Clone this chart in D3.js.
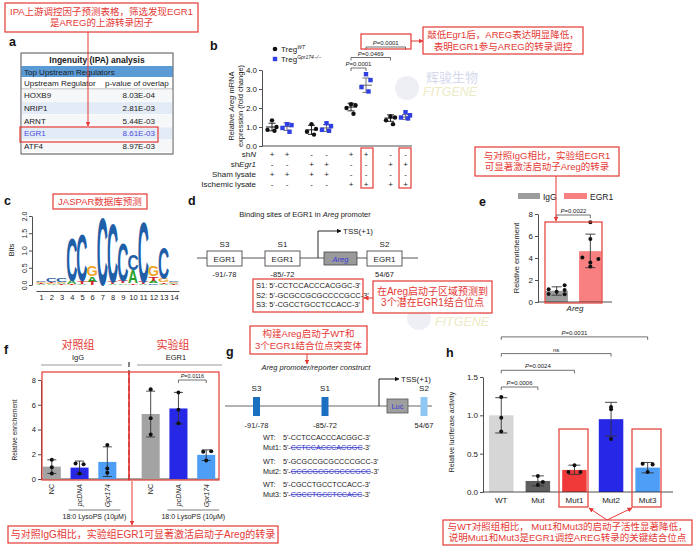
<!DOCTYPE html>
<html><head><meta charset="utf-8">
<script src="https://cdn.jsdelivr.net/npm/d3@7/dist/d3.min.js"></script>
<style>
html,body{margin:0;padding:0;background:#fff;}
svg{display:block;}
text{font-family:"Liberation Sans",Arial,"Noto Sans CJK SC",sans-serif;}
</style></head><body>
<script>
// ================= DATA =================
// panel a
const ipaTitle = "Ingenuity (IPA) analysis";
const ipaRegulators = ["HOXB9","NRIP1","ARNT","EGR1","ATF4"];
const ipaPValues = ["8.03E-04","2.81E-03","5.44E-03","8.61E-03","8.97E-03"];
// panel b
const bGroups = ["WT","KO","WT","KO","WT","KO","WT","KO"];
const bMeans = [1.0,1.02,0.85,0.95,2.05,3.2,1.47,1.52];
const bSD = [0.2,0.2,0.24,0.18,0.2,0.38,0.17,0.13];
const bPoints = [[1.35,1.0,0.85,0.8],[1.15,1.1,0.95,0.75],[1.15,0.9,0.75,0.6],[1.2,1.05,0.85,0.8],
                 [2.2,2.15,2.0,1.7],[3.78,3.47,3.1,2.87],[1.55,1.5,1.35,1.15],[1.78,1.62,1.5,1.45]];
const bRowLabels = [["sh","N"],["sh","Egr1"],["Sham lysate",""],["Ischemic lysate",""]];
const bSigns = [["+","+","-","-","+","+","-","-"],["-","-","+","+","-","-","+","+"],
                ["+","+","+","+","-","-","-","-"],["-","-","-","-","+","+","+","+"]];
const bComparisons = [[4,5,"P=0.0001"],[4,6,"P=0.0469"],[5,7,"P=0.0001"]];
const bYTicks = [0,1,2,3,4];
// panel c (sequence logo, bits per letter)
const logoPositions = [1,2,3,4,5,6,7,8,9,10,11,12,13,14];
const logoA = [0.03,0.03,0.03,0.1,0.03,0.15,0,0.02,0.05,0.38,0.03,0.08,0.03,0.03];
const logoC = [0.05,0.12,0.12,1.25,1.4,0,2.0,1.72,1.1,0.45,1.78,0.05,0.92,0.05];
const logoG = [0.04,0.03,0.03,0,0,0.3,0,0,0,0,0,0.32,0.1,0.03];
const logoT = [0.03,0.03,0.02,0.03,0.08,0.1,0,0.06,0.08,0.05,0.06,0.12,0.05,0.02];
const logoYTicks = [0,0.5,1,1.5,2];
// panel d / g
const siteNames = ["S3","S1","S2"];
const sitePositions = ["-91/-78","-85/-72","54/67"];
const siteSequences = ["S1: 5'-CCTCCACCCACGGC-3'","S2: 5'-GCGCCGCGCCCCGCC-3'","S3: 5'-CGCCTGCCTCCACC-3'"];
const wtSequences = ["CCTCCACCCACGGC","GCGCCGCGCCCCGCC","CGCCTGCCTCCACC"];
const mutSequences = ["CCTCCACCCACGGC","GCGCGCGCGCCCGCC","CGCCTGCCTCCACC"];
// panel e
const eCategories = ["IgG","EGR1"];
const eMeans = [1.02,4.62];
const eErrLow = [0.62,3.12];
const eErrHigh = [1.38,6.17];
const ePoints = [[1.15,0.73,0.94,1.52,1.1,0.7],[7.24,5.72,4.05,3.9,3.59,3.22]];
const eYTicks = [0,2,4,6,8];
// panel f
const fGroups = ["IgG","EGR1"];
const fConditions = ["NC","pcDNA","Gpr174"];
const fMeans = [[1.0,0.92,1.38],[5.25,5.7,1.95]];
const fErrLow = [[0.45,0.4,0.2],[3.4,4.45,1.5]];
const fErrHigh = [[1.55,1.45,2.6],[7.1,7.0,2.35]];
const fPoints = [[[1.55,0.95,0.45],[1.25,1.2,0.45],[2.75,0.85,0.5]],
                 [[7.25,4.9,3.6],[7.0,5.6,4.5],[2.2,2.25,1.5]]];
const fYTicks = [0,2,4,6,8];
// panel h
const hCategories = ["WT","Mut","Mut1","Mut2","Mut3"];
const hMeans = [1.0,0.144,0.288,0.95,0.318];
const hErrLow = [0.77,0.08,0.23,0.73,0.25];
const hErrHigh = [1.23,0.21,0.35,1.17,0.385];
const hPoints = [[1.24,0.97,0.79],[0.21,0.13,0.09],[0.35,0.26,0.26],[1.11,1.08,0.69],[0.37,0.36,0.26]];
const hComparisons = [[0,1,"P=0.0006"],[0,2,"P=0.0024"],[0,3,"ns"],[0,4,"P=0.0031"]];
const hYTicks = [0,0.5,1.0,1.5];

// ================= LAYOUT / STYLE =================
const RED = "#e53935";
const svg = d3.select("body").append("svg").attr("width",698).attr("height",553);
svg.append("rect").attr("width",698).attr("height",553).attr("fill","#fff");
const defs = svg.append("defs");
function mk(id,color){
  defs.append("marker").attr("id",id).attr("viewBox","0 0 10 10").attr("refX",9).attr("refY",5)
    .attr("markerWidth",5).attr("markerHeight",5).attr("orient","auto")
    .append("path").attr("d","M0,0L10,5L0,10z").attr("fill",color);
}
mk("arR",RED); mk("arK","#111");

function txt(x,y,s,o={}){
  const t = svg.append("text").attr("x",x).attr("y",y).attr("font-size",o.fs||8).attr("fill",o.fill||"#1a1a1a");
  if(s!==null) t.text(s);
  if(o.anchor) t.attr("text-anchor",o.anchor);
  if(o.bold) t.attr("font-weight","bold");
  if(o.italic) t.attr("font-style","italic");
  if(o.rot!==undefined) t.attr("transform",`rotate(${o.rot},${x},${y})`);
  return t;
}
function ln(x1,y1,x2,y2,o={}){
  const l = svg.append("line").attr("x1",x1).attr("y1",y1).attr("x2",x2).attr("y2",y2)
    .attr("stroke",o.stroke||"#222").attr("stroke-width",o.sw||0.8);
  if(o.dash) l.attr("stroke-dasharray",o.dash);
  if(o.marker) l.attr("marker-end",`url(#${o.marker})`);
  return l;
}
function box(x,y,w,h,o={}){
  return svg.append("rect").attr("x",x).attr("y",y).attr("width",w).attr("height",h)
    .attr("fill",o.fill||"none").attr("stroke",o.stroke||RED).attr("stroke-width",o.sw||1.2);
}
function callout(x,y,w,h,lines,fs,lh){
  box(x,y,w,h,{fill:"#fff"});
  lines.forEach((s,i)=>{
    txt(x+w/2, y+h/2+(i-(lines.length-1)/2)*lh+fs*0.36, s, {fs:fs,fill:RED,anchor:"middle"});
  });
}
function pLabel(x,y,label,fs){
  const t = txt(x,y,null,{fs:fs,anchor:"middle"});
  if(label.startsWith("P=")){
    t.append("tspan").attr("font-style","italic").text("P");
    t.append("tspan").text(label.slice(1));
  } else t.text(label);
}
function bracket(x1,x2,y,label,fs){
  svg.append("path").attr("d",`M${x1},${y+3}V${y}H${x2}V${y+3}`).attr("fill","none").attr("stroke","#333").attr("stroke-width",0.7);
  pLabel((x1+x2)/2,y-2,label,fs||6);
}
function styleAxis(g,fs){
  g.attr("font-family",null).attr("font-size",fs);
  g.selectAll("path,line").attr("stroke","#222").attr("stroke-width",0.8);
  g.selectAll("text").attr("fill","#222");
}
function watermark(x,y){
  svg.append("circle").attr("cx",x-19).attr("cy",y+6).attr("r",12).attr("fill","#e9ebf3").attr("opacity",0.8);
  txt(x,y,"辉骏生物",{fs:13,fill:"#d4d9ec"});
  txt(x-3,y+14,"FITGENE",{fs:12.5,fill:"#ecebc4",italic:true});
}

// watermarks (drawn first, underneath)
watermark(426,82);
watermark(438,312);

// panel letters
[["a",9,46],["b",210,50],["c",4,205],["d",188,205],["e",479,206],["f",4,354],["g",226,356],["h",446,357]]
  .forEach(d=>txt(d[1],d[2],d[0],{fs:12.5,bold:true,fill:"#111"}));

// ================= PANEL A =================
callout(5,3,193,29,["IPA上游调控因子预测表格，筛选发现EGR1","是AREG的上游转录因子"],9.5,11);
(function(){
  const x0=21, w=152, rowH=12.6, rowY0=89;
  box(x0,53,w,101,{stroke:"#777",sw:0.8,fill:"#fff"});
  txt(x0+w/2,63,ipaTitle,{fs:8.5,bold:true,anchor:"middle"});
  svg.append("rect").attr("x",x0).attr("y",66).attr("width",w).attr("height",11).attr("fill","#5b9bd5");
  txt(x0+3,74.5,"Top Upstream Regulators",{fs:8});
  txt(x0+3,86,"Upstream Regulator",{fs:8});
  txt(x0+84,86,"p-value of overlap",{fs:8});
  ln(x0,89,x0+w,89,{stroke:"#888",sw:0.7});
  ipaRegulators.forEach((r,i)=>{
    const y = rowY0 + i*rowH;
    svg.append("rect").attr("x",x0+0.5).attr("y",y+0.5).attr("width",w-1).attr("height",rowH-0.5)
      .attr("fill", i%2 ? "#e3ebf6" : "#f6f7f9");
    const col = r==="EGR1" ? "#4b4bdc" : "#1a1a1a";
    txt(x0+3,y+9.3,r,{fs:8,fill:col});
    txt(x0+134,y+9.3,ipaPValues[i],{fs:8,fill:col,anchor:"end"});
  });
  box(x0,53,w,101,{stroke:"#777",sw:0.8});
  box(20,127,138,15,{sw:1.2});
  ln(88,32,88,126,{stroke:RED,sw:1,marker:"arR"});
})();

// ================= PANEL B =================
(function(){
  const yB = d3.scaleLinear().domain([0,4]).range([146,70]);
  const pairs = d3.scaleBand().domain([0,1,2,3]).range([259.75,417.75]);
  const inner = d3.scalePoint().domain(["WT","KO"]).range([-7.5,7.5]);
  const gx = i => pairs(Math.floor(i/2)) + pairs.bandwidth()/2 + inner(bGroups[i]);
  const jit = [0,4.5,-4.5,2.5];
  // legend
  svg.append("circle").attr("cx",275).attr("cy",49).attr("r",2.3).attr("fill","#111");
  const l1 = txt(281,52,"Treg",{fs:8});
  l1.append("tspan").attr("dy",-3).attr("font-size",5).attr("font-style","italic").text("WT");
  svg.append("rect").attr("x",272.8).attr("y",56.8).attr("width",4.4).attr("height",4.4).attr("fill","#2f3fe0");
  const l2 = txt(281,62,"Treg",{fs:8});
  l2.append("tspan").attr("dy",-3).attr("font-size",5).attr("font-style","italic").text("Gpr174−/−");
  // axes
  const ga = svg.append("g").attr("transform","translate(262,0)")
    .call(d3.axisLeft(yB).tickValues(bYTicks).tickSize(3).tickSizeOuter(0).tickPadding(2));
  styleAxis(ga,8);
  ln(262,146,412,146);
  const yt1 = txt(234,106,null,{fs:7.5,anchor:"middle",rot:-90});
  yt1.append("tspan").text("Relative ");
  yt1.append("tspan").attr("font-style","italic").text("Areg");
  yt1.append("tspan").text(" mRNA");
  txt(243,106,"expression (fold change)",{fs:7.5,anchor:"middle",rot:-90});
  // data
  bGroups.forEach((g,i)=>{
    const cx = gx(i), col = g==="WT" ? "#111" : "#666";
    ln(cx,yB(bMeans[i]-bSD[i]),cx,yB(bMeans[i]+bSD[i]),{stroke:col,sw:0.9});
    ln(cx-3.5,yB(bMeans[i]+bSD[i]),cx+3.5,yB(bMeans[i]+bSD[i]),{stroke:col,sw:0.9});
    ln(cx-3.5,yB(bMeans[i]-bSD[i]),cx+3.5,yB(bMeans[i]-bSD[i]),{stroke:col,sw:0.9});
    ln(cx-6,yB(bMeans[i]),cx+6,yB(bMeans[i]),{stroke:col,sw:1});
    bPoints[i].forEach((v,k)=>{
      if(g==="WT") svg.append("circle").attr("cx",cx+jit[k]).attr("cy",yB(v)).attr("r",2.2).attr("fill","#111");
      else svg.append("rect").attr("x",cx+jit[k]-2.2).attr("y",yB(v)-2.2).attr("width",4.4).attr("height",4.4).attr("fill","#2f3fe0");
    });
  });
  bComparisons.forEach((c,k)=> bracket(gx(c[0]),gx(c[1]),68-k*10.5,c[2],6));
  // treatment table
  bRowLabels.forEach((r,ri)=>{
    const y = 157 + ri*10;
    const t = txt(256,y,null,{fs:8,anchor:"end"});
    t.append("tspan").text(r[0]);
    if(r[1]) t.append("tspan").attr("font-style","italic").text(r[1]);
    bSigns[ri].forEach((s,i)=> txt(gx(i),y,s==="-"?"-":"+",{fs:8,anchor:"middle"}));
  });
  box(361,34,50,15);
  box(361,148,12,40);
  box(399,148,12,40);
  ln(411,41,423,41,{stroke:RED,sw:1,marker:"arR"});
})();
callout(423,27,160,27,["敲低Egr1后，AREG表达明显降低，","表明EGR1参与AREG的转录调控"],9.5,12);

// ================= PANEL C =================
box(53,194,94,15,{fill:"#fff"});
txt(100,205,"JASPAR数据库预测",{fs:9.5,fill:RED,anchor:"middle"});
(function(){
  const yC = d3.scaleLinear().domain([0,2]).range([285,216]);
  const xC = d3.scaleLinear().domain([0.5,14.5]).range([36,179]);
  const ga = svg.append("g").attr("transform","translate(32,0)")
    .call(d3.axisLeft(yC).tickValues(logoYTicks).tickSize(3).tickSizeOuter(0));
  styleAxis(ga,7);
  ga.selectAll(".tick text").attr("transform","rotate(-90)").attr("x",0).attr("y",-5).attr("dy",0).attr("text-anchor","middle");
  txt(14,250,"Bits",{fs:7.5,anchor:"middle",rot:-90});
  const gb = svg.append("g").attr("transform","translate(0,291)")
    .call(d3.axisBottom(xC).tickValues(logoPositions).tickSize(0).tickSizeOuter(0).tickPadding(4));
  styleAxis(gb,7.5);
  const colors = {A:"#2ca02c",C:"#1f5fa8",G:"#f0a52a",T:"#d62728"};
  const ink = {A:0.70,C:0.62,G:0.66,T:0.58};
  const heights = {A:logoA,C:logoC,G:logoG,T:logoT};
  logoPositions.forEach((p,i)=>{
    const letters = ["A","C","G","T"].map(L=>({L,h:heights[L][i]})).filter(d=>d.h>0).sort((a,b)=>a.h-b.h);
    let base = 0;
    const cx = xC(p);
    letters.forEach(d=>{
      const yb = yC(base), yt = yC(base+d.h);
      const hpx = yb-yt;
      const sx = 9.6/(ink[d.L]*100), sy = hpx/71.6;
      svg.append("text").attr("x",0).attr("y",0).attr("font-size",100).attr("font-weight","bold")
        .attr("text-anchor","middle").attr("fill",colors[d.L])
        .attr("transform",`translate(${cx},${yb}) scale(${sx},${sy})`).text(d.L);
      base += d.h;
    });
  });
})();

// ================= PANEL D =================
(function(){
  const t = txt(305,217,null,{fs:7.5,anchor:"middle"});
  t.append("tspan").text("Binding sites of EGR1 in ");
  t.append("tspan").attr("font-style","italic").text("Areg");
  t.append("tspan").text(" promoter");
  ln(197,258,418,258,{stroke:"#444",sw:0.9});
  const boxes = [[207,siteNames[0],sitePositions[0]],[265,siteNames[1],sitePositions[1]],[367,siteNames[2],sitePositions[2]]];
  boxes.forEach(b=>{
    box(b[0],251,35,15,{stroke:"#333",sw:0.8,fill:"#fff"});
    txt(b[0]+17.5,261.5,"EGR1",{fs:8,anchor:"middle"});
    txt(b[0]+17.5,247,b[1],{fs:8,anchor:"middle"});
    txt(b[0]+17.5,276.5,b[2],{fs:7.5,anchor:"middle"});
  });
  box(324,252,33,13,{stroke:"#444",sw:0.8,fill:"#9a9a9a"});
  txt(340.5,261.5,"Areg",{fs:7.5,anchor:"middle",italic:true,fill:"#3a3ad8"});
  svg.append("path").attr("d","M318,258V231H341").attr("fill","none").attr("stroke","#111").attr("stroke-width",0.9).attr("marker-end","url(#arK)");
  txt(343,234,"TSS(+1)",{fs:8});
  box(253,279,110,33,{fill:"#fff"});
  siteSequences.forEach((s,i)=> txt(256,288+i*9.6,s,{fs:7.5}));
  ln(373,298,364,298,{stroke:RED,sw:1,marker:"arR"});
})();
callout(373,281,119,32,["在Areg启动子区域预测到","3个潜在EGR1结合位点"],10,11.5);

// ================= PANEL E =================
callout(475,147,144,29,["与对照IgG相比，实验组EGR1","可显著激活启动子Areg的转录"],9.5,11);
(function(){
  const yE = d3.scaleLinear().domain([0,8]).range([302,214]);
  const xE = d3.scaleBand().domain(eCategories).range([542,605]).paddingInner(0.33).paddingOuter(0.1);
  const cols = {IgG:"#9c9c9c",EGR1:"#f98080"};
  // legend
  svg.append("rect").attr("x",518).attr("y",193).attr("width",22).attr("height",6).attr("fill",cols.IgG);
  txt(543,199.5,"IgG",{fs:8.5});
  svg.append("rect").attr("x",564).attr("y",193).attr("width",23).attr("height",6).attr("fill",cols.EGR1);
  txt(590,199.5,"EGR1",{fs:8.5});
  const ga = svg.append("g").attr("transform","translate(538,0)")
    .call(d3.axisLeft(yE).tickValues(eYTicks).tickSize(3).tickSizeOuter(0).tickPadding(2));
  styleAxis(ga,8);
  txt(519,258,"Relative enrichement",{fs:7.5,anchor:"middle",rot:-90});
  const jit = [[-8,-8,0,8,8,8],[0,0,-8,8,0,0]];
  eCategories.forEach((c,i)=>{
    const x = xE(c), w = xE.bandwidth(), cx = x+w/2;
    svg.append("rect").attr("x",x).attr("y",yE(eMeans[i])).attr("width",w).attr("height",yE(0)-yE(eMeans[i])).attr("fill",cols[c]);
    ln(cx,yE(eErrLow[i]),cx,yE(eErrHigh[i]),{stroke:"#333",sw:0.9});
    ln(cx-5,yE(eErrLow[i]),cx+5,yE(eErrLow[i]),{stroke:"#333",sw:0.9});
    ln(cx-5,yE(eErrHigh[i]),cx+5,yE(eErrHigh[i]),{stroke:"#333",sw:0.9});
    ePoints[i].forEach((v,k)=> svg.append("circle").attr("cx",cx+jit[i][k]).attr("cy",yE(v)).attr("r",2).attr("fill","#111"));
  });
  ln(538,302,612,302);
  txt(575,311,"Areg",{fs:8,anchor:"middle",italic:true});
  bracket(xE("IgG")+xE.bandwidth()/2,xE("EGR1")+xE.bandwidth()/2,215,"P=0.0022",6);
  box(545,222,57,81);
  ln(556,176,556,221,{stroke:RED,sw:1,marker:"arR"});
})();

// ================= PANEL F =================
(function(){
  const yF = d3.scaleLinear().domain([0,8]).range([479,380]);
  const outer = d3.scaleBand().domain(fGroups).range([40,218]).paddingInner(0.2).paddingOuter(0);
  const inner = d3.scaleBand().domain(fConditions).range([0,outer.bandwidth()]).paddingInner(0.35).paddingOuter(0.1);
  const cols = {NC:"#a3a3a3",pcDNA:"#2727e8",Gpr174:"#4f9ef5"};
  const jit = [[[0,0,0],[-4,4,0],[0,0,0]],[[0,0,0],[0,0,0],[-3,5,0]]];
  txt(78,349,"对照组",{fs:11,fill:RED,anchor:"middle"});
  txt(173,349,"实验组",{fs:11,fill:RED,anchor:"middle"});
  txt(78,360,"IgG",{fs:7.5,anchor:"middle"});
  ln(41,365,122,365,{stroke:"#999",sw:1.2});
  txt(176,360,"EGR1",{fs:7.5,anchor:"middle"});
  ln(137,365,222,365,{stroke:"#999",sw:1.2});
  ln(129,362,129,481,{stroke:"#333",sw:1.2,dash:"5,3"});
  const ga = svg.append("g").attr("transform","translate(41,0)")
    .call(d3.axisLeft(yF).tickValues(fYTicks).tickSize(3).tickSizeOuter(0).tickPadding(2));
  styleAxis(ga,7.5);
  txt(17,430,"Relative enrichement",{fs:6.5,anchor:"middle",rot:-90});
  ln(41,479,219,479);
  fGroups.forEach((g,gi)=>{
    fConditions.forEach((c,ci)=>{
      const x = outer(g)+inner(c), w = inner.bandwidth(), cx = x+w/2;
      const m = fMeans[gi][ci];
      svg.append("rect").attr("x",x).attr("y",yF(m)).attr("width",w).attr("height",yF(0)-yF(m)).attr("fill",cols[c]);
      const lo = fErrLow[gi][ci], hi = fErrHigh[gi][ci];
      ln(cx,yF(lo),cx,yF(hi),{stroke:"#333",sw:0.9});
      ln(cx-4.5,yF(lo),cx+4.5,yF(lo),{stroke:"#333",sw:0.9});
      ln(cx-4.5,yF(hi),cx+4.5,yF(hi),{stroke:"#333",sw:0.9});
      fPoints[gi][ci].forEach((v,k)=> svg.append("circle").attr("cx",cx+jit[gi][ci][k]).attr("cy",yF(v)).attr("r",2).attr("fill","#111"));
      txt(cx+2.5,484,c,{fs:7,anchor:"end",rot:-90,italic:c!=="NC"});
    });
    const x1 = outer(g)+inner("pcDNA"), x2 = outer(g)+inner("Gpr174")+inner.bandwidth();
    ln(x1-2,510,x2+4,510,{stroke:"#444",sw:0.7});
    txt((x1+x2)/2+1,519,"18:0 LysoPS (10μM)",{fs:7,anchor:"middle"});
  });
  const bx1 = outer("EGR1")+inner("pcDNA")+inner.bandwidth()/2, bx2 = outer("EGR1")+inner("Gpr174")+inner.bandwidth()/2;
  bracket(bx1,bx2,380,"P=0.0116",5.5);
  box(42,372,87,108);
  box(129,372,90,108);
  ln(132,481,132,525,{stroke:RED,sw:1,marker:"arR"});
})();
callout(8,526,270,17,["与对照IgG相比，实验组EGR1可显著激活启动子Areg的转录"],10,11);

// ================= PANEL G =================
callout(250,326,117,28,["构建Areg启动子WT和","3个EGR1结合位点突变体"],9.5,12);
ln(307,354,307,364,{stroke:RED,sw:1,marker:"arR"});
(function(){
  txt(316,370,"Areg promoter/reporter construct",{fs:7.5,anchor:"middle",italic:true});
  ln(225,406,432,406,{stroke:"#555",sw:0.9});
  const sites = [[256.5,"#1a6fc0"],[325,"#1a6fc0"],[424,"#8fc7f2"]];
  sites.forEach((s,i)=>{
    svg.append("rect").attr("x",s[0]-3.5).attr("y",397).attr("width",7).attr("height",19).attr("fill",s[1]);
    txt(s[0],391,siteNames[i],{fs:8,anchor:"middle"});
    txt(s[0],428,sitePositions[i],{fs:7.5,anchor:"middle"});
  });
  box(387,399,21,14,{stroke:"#555",sw:0.8,fill:"#9e9e9e"});
  txt(397.5,409,"Luc",{fs:7.5,anchor:"middle",fill:"#3a3ad8"});
  svg.append("path").attr("d","M379,406V379H399").attr("fill","none").attr("stroke","#111").attr("stroke-width",0.9).attr("marker-end","url(#arK)");
  txt(401,382,"TSS(+1)",{fs:8});
  const ys = [[440,450],[464,474],[487,497]];
  wtSequences.forEach((s,i)=>{
    txt(263,ys[i][0],"WT:",{fs:7.2});
    txt(283,ys[i][0],"5'-"+s+"-3'",{fs:7.2});
    const lab = txt(263,ys[i][1],`Mut${i+1}: 5'-`,{fs:7.2});
    const w1 = lab.node().getComputedTextLength();
    const mt = txt(263+w1,ys[i][1],mutSequences[i],{fs:7.2,fill:"#3535c8"});
    const w2 = mt.node().getComputedTextLength();
    ln(263+w1,ys[i][1]-2.4,263+w1+w2,ys[i][1]-2.4,{stroke:"#3535c8",sw:0.8});
    txt(263+w1+w2,ys[i][1],"-3'",{fs:7.2});
  });
})();

// ================= PANEL H =================
(function(){
  const yH = d3.scaleLinear().domain([0,1.5]).range([492,377]);
  const xH = d3.scaleBand().domain(hCategories).range([483.5,665.4]).paddingInner(0.33).paddingOuter(0.15);
  const cols = {WT:"#d6d6d6",Mut:"#5f5f5f",Mut1:"#f03a3a",Mut2:"#2727e8",Mut3:"#4f9ef5"};
  const jit = [[0,0,0],[0,5,0],[0,-6,6],[0,0,0],[-5,5,0]];
  const ga = svg.append("g").attr("transform","translate(483,0)")
    .call(d3.axisLeft(yH).tickValues(hYTicks).tickFormat(d3.format(".1f")).tickSize(3).tickSizeOuter(0).tickPadding(2));
  styleAxis(ga,8);
  txt(454,432,"Relative luciferase activity",{fs:7,anchor:"middle",rot:-90});
  hCategories.forEach((c,i)=>{
    const x = xH(c), w = xH.bandwidth(), cx = x+w/2;
    svg.append("rect").attr("x",x).attr("y",yH(hMeans[i])).attr("width",w).attr("height",yH(0)-yH(hMeans[i])).attr("fill",cols[c]);
    ln(cx,yH(hErrLow[i]),cx,yH(hErrHigh[i]),{stroke:"#333",sw:0.9});
    ln(cx-6,yH(hErrLow[i]),cx+6,yH(hErrLow[i]),{stroke:"#333",sw:0.9});
    ln(cx-6,yH(hErrHigh[i]),cx+6,yH(hErrHigh[i]),{stroke:"#333",sw:0.9});
    hPoints[i].forEach((v,k)=> svg.append("circle").attr("cx",cx+jit[i][k]).attr("cy",yH(v)).attr("r",2).attr("fill","#111"));
    txt(cx,503,c,{fs:8,anchor:"middle"});
  });
  ln(483,492,673,492);
  hComparisons.forEach((c,k)=>{
    const x1 = xH(hCategories[c[0]])+xH.bandwidth()/2, x2 = xH(hCategories[c[1]])+xH.bandwidth()/2;
    bracket(x1,x2,387-k*16.7,c[2],6);
  });
  box(559,429,29,78);
  box(632,429,29,78);
  ln(607,520,589,508,{stroke:RED,sw:1,marker:"arR"});
  ln(607,520,632,508,{stroke:RED,sw:1,marker:"arR"});
})();
callout(443,520,249,25,["与WT对照组相比， Mut1和Mut3的启动子活性显著降低，","说明Mut1和Mut3是EGR1调控AREG转录的关键结合位点"],9.5,11);
</script>
</body></html>
